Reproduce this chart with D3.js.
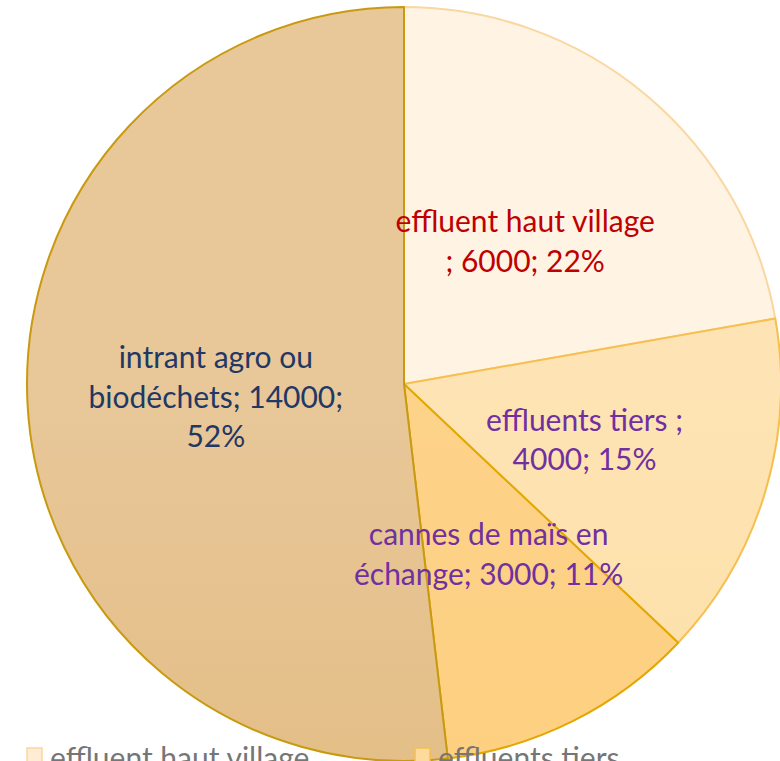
<!DOCTYPE html>
<html>
<head>
<meta charset="utf-8">
<script src="https://cdn.jsdelivr.net/npm/d3@7"></script>
<style>
  html, body { margin: 0; padding: 0; background: #fff; overflow: hidden; }
</style>
</head>
<body>
<div id="chart"></div>
<script>
// données
const categories = ["effluent haut village ", "effluents tiers ", "cannes de maïs en échange", "intrant agro ou biodéchets"];
const values = [6000, 4000, 3000, 14000];
const wordsPerLine = [[3, 3], [3, 2], [4, 3], [3, 2, 1]];

const fillTop = ["#fff3e4", "#fee4b4", "#fdd38a", "#e8c799"];
const fillBottom = ["#feecd4", "#fddb9c", "#fdcd78", "#dfb676"];
const strokes = ["#fad7a0", "#f6bf4f", "#e3a700", "#c99a10"];
const labelColors = ["#c00000", "#7030a0", "#7030a0", "#1f3864"];

const width = 780, height = 761;
const cx = 404, cy = 384, r = 377;

const svg = d3.select("#chart").append("svg")
  .attr("width", width)
  .attr("height", height);

const defs = svg.append("defs");
fillTop.forEach((c, i) => {
  const g = defs.append("linearGradient")
    .attr("id", "grad" + i)
    .attr("gradientUnits", "userSpaceOnUse")
    .attr("x1", 0).attr("y1", cy - r)
    .attr("x2", 0).attr("y2", cy + r);
  g.append("stop").attr("offset", "0%").attr("stop-color", c);
  g.append("stop").attr("offset", "100%").attr("stop-color", fillBottom[i]);
});

const total = d3.sum(values);
const pie = d3.pie().sort(null).value(d => d);
const arcs = pie(values);

const arc = d3.arc().innerRadius(0).outerRadius(r);
const labelArc = d3.arc().innerRadius(r * 0.5).outerRadius(r * 0.5);

const g = svg.append("g").attr("transform", `translate(${cx},${cy})`);

// parts
g.selectAll("path")
  .data(arcs)
  .enter()
  .append("path")
  .attr("d", arc)
  .attr("fill", (d, i) => `url(#grad${i})`)
  .attr("stroke", (d, i) => strokes[i])
  .attr("stroke-width", 2)
  .attr("stroke-linejoin", "round");

// étiquettes
const fontSize = 30;
const lineH = 39.5;
arcs.forEach((d, i) => {
  const pct = Math.round(values[i] / total * 100);
  const words = `${categories[i]}; ${values[i]}; ${pct}%`.split(/\s+/);
  const lines = [];
  let k = 0;
  wordsPerLine[i].forEach(n => {
    lines.push(words.slice(k, k + n).join(" "));
    k += n;
  });
  const [x, y] = labelArc.centroid(d);
  const t = g.append("text")
    .attr("text-anchor", "middle")
    .attr("font-family", "Lato, 'Open Sans', sans-serif")
    .attr("font-size", fontSize)
    .attr("fill", labelColors[i]);
  lines.forEach((l, j) => {
    t.append("tspan")
      .attr("x", x)
      .attr("y", y + (j - (lines.length - 1) / 2) * lineH)
      .attr("dy", "0.42em")
      .text(l);
  });
});

// légende (coupée en bas, comme l'original)
const legend = svg.append("g").attr("transform", "translate(27,748)");
const item = legend.selectAll("g")
  .data(categories)
  .enter()
  .append("g")
  .attr("transform", (d, i) => `translate(${(i % 2) * 388},${Math.floor(i / 2) * 40})`);

item.append("rect")
  .attr("width", 15)
  .attr("height", 15)
  .attr("fill", (d, i) => fillBottom[i])
  .attr("stroke", (d, i) => strokes[i])
  .attr("stroke-width", 1.5);

item.append("text")
  .attr("x", 23)
  .attr("y", 21)
  .attr("font-family", "Lato, 'Open Sans', sans-serif")
  .attr("font-size", fontSize)
  .attr("fill", "#767676")
  .text(d => d.trim());
</script>
</body>
</html>
